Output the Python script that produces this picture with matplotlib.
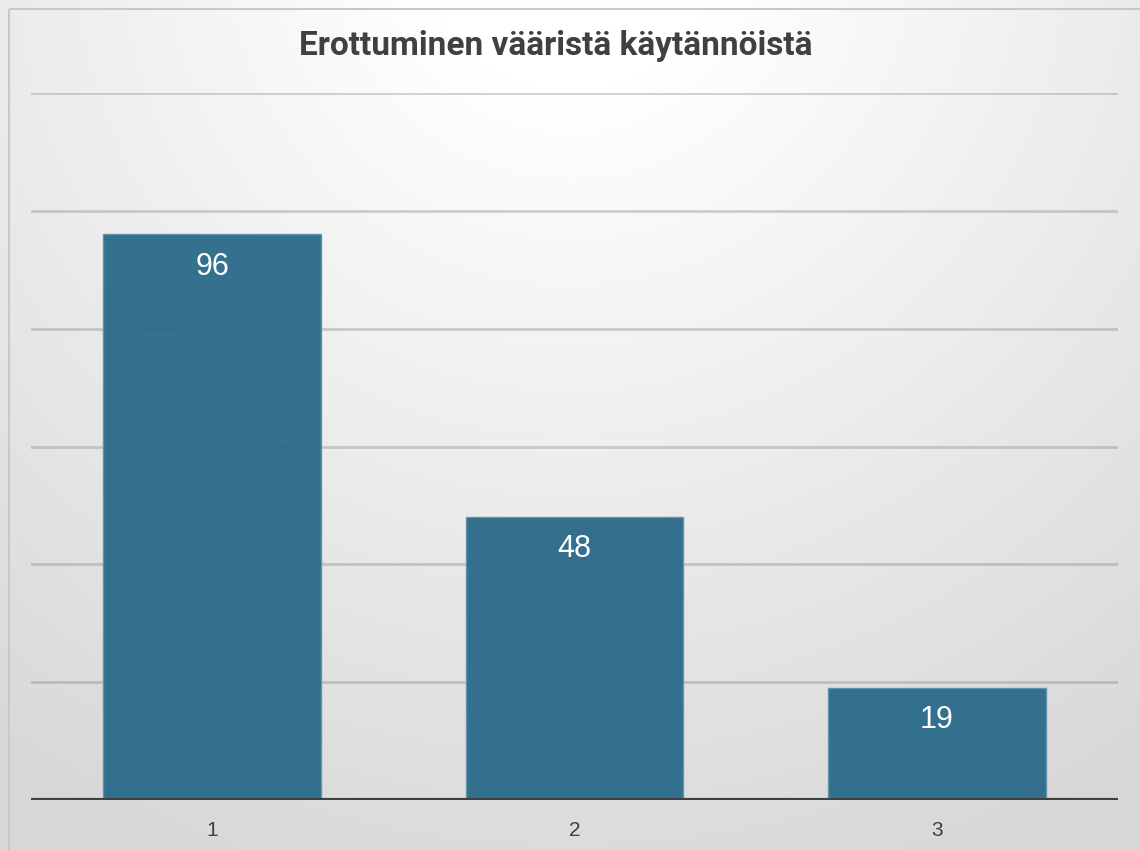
import numpy as np
import matplotlib
matplotlib.use("Agg")
import matplotlib.pyplot as plt
from matplotlib.patches import Rectangle

categories = ["1", "2", "3"]
values = [96, 48, 19]
yticks = [0, 20, 40, 60, 80, 100, 120]
title = "Erottuminen vääristä käytännöistä"

W, H = 1140, 850
fig = plt.figure(figsize=(W / 100, H / 100), dpi=100)

# gradient background
bg = fig.add_axes([0, 0, 1, 1], zorder=-10)
yy, xx = np.mgrid[0:H, 0:W]
r = np.sqrt(((xx - 570) / 1.0) ** 2 + ((yy + 60) / 1.0) ** 2)
t = np.clip((r - 150) / 850, 0, 1)
lum = 1.0 - 0.155 * t
img = np.dstack([lum, lum, lum])
bg.imshow(img, extent=[0, W, H, 0], aspect="auto")
bg.add_patch(Rectangle((8.5, 8.5), W + 20, H + 20, fill=False, edgecolor="#c8c8c8", linewidth=1.5))
bg.set_xlim(0, W)
bg.set_ylim(H, 0)
bg.axis("off")

left, right = 31, 1118
top, bottom = 93, 800
ax = fig.add_axes([left / W, 1 - bottom / H, (right - left) / W, (bottom - top) / H])
ax.patch.set_alpha(0)

x = np.arange(len(categories))
ax.set_xlim(-0.5, len(categories) - 0.5)
ax.set_ylim(yticks[0], yticks[-1])
for yv in yticks[1:]:
    ax.axhline(yv, color="#7f7f7f", alpha=0.35, linewidth=2, zorder=1)

bars = ax.bar(x, values, width=0.6, color="#2a6a89", alpha=0.95,
              edgecolor="#5f93ab", linewidth=1, zorder=2)
ax.axhline(0, color="#404040", linewidth=3, zorder=3)

for xi, v in zip(x, values):
    ax.annotate(str(v), (xi, v), xytext=(0, -34), textcoords="offset points",
                ha="center", va="bottom", color="white", fontsize=22,
                family="Liberation Sans", zorder=4)

ax.set_xticks(x)
ax.set_xticklabels(categories, fontsize=15, color="#404040", family="Liberation Sans")
ax.tick_params(axis="x", length=0, pad=15)
ax.set_yticks([])
for s in ax.spines.values():
    s.set_visible(False)

fig.text(556 / W, 1 - 46 / H, title, ha="center", va="center", fontsize=24,
         fontweight="bold", color="#404040", family="Roboto", fontstretch="condensed")

fig.savefig("out.png", dpi=100)
